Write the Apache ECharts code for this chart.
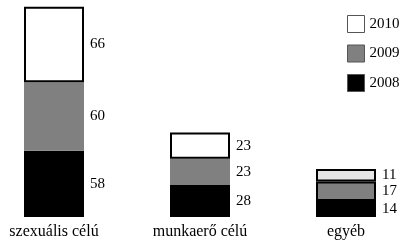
<!DOCTYPE html>
<html>
<head>
<meta charset="utf-8">
<script src="https://cdn.jsdelivr.net/npm/echarts@6/dist/echarts.min.js"></script>
<style>
  html, body { margin: 0; padding: 0; background: #fff; }
  #chart { width: 400px; height: 241px; }
</style>
</head>
<body>
<div id="chart"></div>
<script>
// categories and yearly values
var categories = ['szexuális célú', 'munkaerő célú', 'egyéb']
var years = ['2008', '2009', '2010']
var values2008 = [58, 28, 14]
var values2009 = [60, 23, 17]
var values2010 = [66, 23, 11]

var font = 'Liberation Serif, Times New Roman, serif'
var labelStyle = {
  show: true,
  position: 'right',
  distance: 6,
  color: '#000',
  fontFamily: font,
  fontSize: 15
}

var legendIcon = { borderColor: '#555', borderWidth: 1 }

var chart = echarts.init(document.getElementById('chart'))
chart.setOption({
  animation: false,
  grid: { left: 54, right: 54, top: 0, bottom: 24 },
  legend: {
    orient: 'vertical',
    left: 342,
    top: 10,
    itemWidth: 17,
    itemHeight: 17,
    itemGap: 11.5,
    icon: 'rect',
    data: [
      { name: '2010', itemStyle: legendIcon },
      { name: '2009', itemStyle: legendIcon },
      { name: '2008', itemStyle: legendIcon }
    ],
    textStyle: { fontFamily: font, fontSize: 15, color: '#000' }
  },
  xAxis: {
    type: 'category',
    data: categories,
    boundaryGap: false,
    axisLine: { show: false },
    axisTick: { show: false },
    axisLabel: { margin: 7, color: '#000', fontFamily: font, fontSize: 16 }
  },
  yAxis: {
    type: 'value',
    min: 0,
    max: 190,
    show: false,
    splitLine: { show: false }
  },
  series: [{
    name: years[0],
    type: 'bar',
    stack: 'total',
    barWidth: 60,
    data: values2008,
    itemStyle: { color: '#000' },
    label: labelStyle
  }, {
    name: years[1],
    type: 'bar',
    stack: 'total',
    barWidth: 60,
    data: values2009.map(function(v, i) {
      // the small bar is outlined all round
      return i === 2 ? { value: v, itemStyle: { borderColor: '#000', borderWidth: 2 } } : v
    }),
    itemStyle: { color: '#808080' },
    label: labelStyle
  }, {
    name: years[2],
    type: 'bar',
    stack: 'total',
    barWidth: 60,
    data: values2010.map(function(v, i) {
      // the last bar's top block is light grey in the picture
      return i === 2 ? { value: v, itemStyle: { color: '#e6e6e6' } } : v
    }),
    itemStyle: { color: '#fff', borderColor: '#000', borderWidth: 2 },
    label: labelStyle
  }]
})
</script>
</body>
</html>
